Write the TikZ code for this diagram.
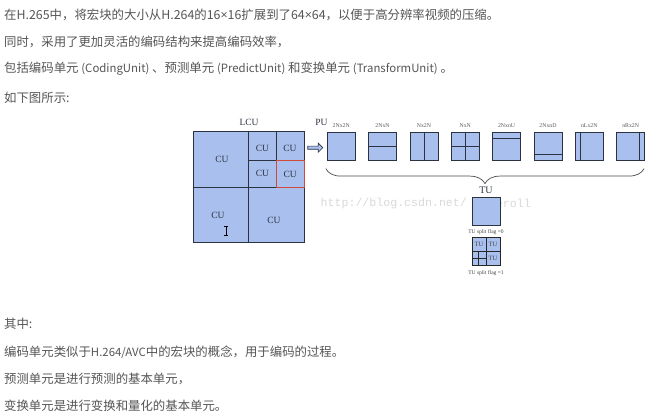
\documentclass[tikz,border=0pt]{standalone}
\usepackage{fontspec}
\setmainfont{Noto Sans CJK SC}
\newfontfamily\os{Open Sans}
\newfontfamily\serif{Liberation Serif}
\newfontfamily\mono{Liberation Mono}
\usetikzlibrary{decorations.pathreplacing,shapes.arrows,calc}
\definecolor{cubl}{HTML}{A9C0EE}
\definecolor{cued}{HTML}{2B3340}
\definecolor{txt}{HTML}{555555}
\definecolor{redb}{HTML}{D04A3A}
\newcommand{\lw}[1]{{\fontsize{11.4}{15}\selectfont #1}}
\begin{document}
\begin{tikzpicture}[x=1pt,y=-1pt,
 para/.style={anchor=west,inner sep=0,text=txt,font=\fontsize{12.4}{15}\selectfont},
 blk/.style={draw=cued,fill=cubl,line width=0.8pt,inner sep=0,minimum size=28pt},
 lab/.style={font=\serif\fontsize{9.5}{10}\selectfont,text=cued,inner sep=0},
 plab/.style={font=\serif\fontsize{5.8}{6}\selectfont,text=black!65,inner sep=0},
 flab/.style={font=\serif\fontsize{5.5}{6}\selectfont,text=black!75,inner sep=0},
 wm/.style={font=\mono\fontsize{11.6}{12}\selectfont,text=black!15,inner sep=0},
 cut/.style={draw=cued,line width=0.8pt},
]
\useasboundingbox[fill=white] (0,0) rectangle (659,417);
% paragraph text
\node[para] (t1) at (4,15) {在H.265中，将宏块的大小从H.264的16{\os ×}16扩展到了64{\os ×}64，以便于高分辨率视频的压缩。};
\node[para] (t2) at (4,42) {同时，采用了更加灵活的编码结构来提高编码效率，};
\node[para] (t3) at (4,69) {包括编码单元 \lw{(CodingUnit)} 、预测单元 \lw{(PredictUnit)} 和变换单元 \lw{(TransformUnit)} 。};
\node[para] (t4) at (4,97.5) {如下图所示:};
\node[para] (b1) at (4,324) {其中:};
\node[para] (b2) at (4,352) {编码单元类似于\lw{H.264/AVC}中的宏块的概念，用于编码的过程。};
\node[para] (b3) at (4,379) {预测单元是进行预测的基本单元，};
\node[para] (b4) at (4,405.5) {变换单元是进行变换和量化的基本单元。};

% LCU
\node[blk,minimum size=111pt] (lcu) at (248.5,187.2) {};
\draw[cut] (248.5,132) -- (248.5,242.4);
\draw[cut] (193,187) -- (304,187);
\draw[cut] (276.2,132) -- (276.2,187);
\draw[cut] (248.5,160) -- (304,160);
\draw[redb,line width=0.9pt] (276.2,160) rectangle (304,187);
\node[lab] (lcul) at (249,122) {LCU};
\node[lab] (cu1) at (222,159.5) {CU};
\node[lab] (cu2) at (262.5,148) {CU};
\node[lab] (cu3) at (290,148) {CU};
\node[lab] (cu4) at (262.5,173.5) {CU};
\node[lab] (cu5) at (290.2,174) {CU};
\node[lab] (cu6) at (218,215) {CU};
\node[lab] (cu7) at (274,220) {CU};
% text cursor
\draw[black,line width=0.6pt] (226,226) -- (226,235.5) (224,226) -- (228,226) (224,235.5) -- (228,235.5);

% arrow and PU
\node[lab] (pul) at (321.5,122) {PU};
\node[single arrow,draw=cued,fill=cubl,line width=0.6pt,minimum width=9pt,minimum height=15pt,single arrow head extend=1.5pt,inner sep=0.5pt] (arr) at (314.5,147.7) {};

\foreach \i/\t in {0/2Nx2N,1/2NxN,2/Nx2N,3/NxN,4/2NxnU,5/2NxnD,6/nLx2N,7/nRx2N}{
  \node[blk] (p\i) at ({341.2+41.35*\i},146.2) {};
  \node[plab] (pl\i) at ({341.2+41.35*\i},125.7) {\t};
}
\draw[cut] (p1.west) -- (p1.east);
\draw[cut] (p2.north) -- (p2.south);
\draw[cut] (p3.west) -- (p3.east) (p3.north) -- (p3.south);
\draw[cut] ($(p4.north west)!0.22!(p4.south west)$) -- ($(p4.north east)!0.22!(p4.south east)$);
\draw[cut] ($(p5.north west)!0.78!(p5.south west)$) -- ($(p5.north east)!0.78!(p5.south east)$);
\draw[cut] ($(p6.north west)!0.2!(p6.north east)$) -- ($(p6.south west)!0.2!(p6.south east)$);
\draw[cut] ($(p7.north west)!0.8!(p7.north east)$) -- ($(p7.south west)!0.8!(p7.south east)$);

% brace
\coordinate (bl) at ($(p0.south west)+(-1,8)$);
\coordinate (br) at ($(p7.south east)+(-1,8)$);
\draw[black!70,line width=0.7pt,decorate,decoration={brace,mirror,amplitude=15pt}] (bl) -- (br);

% watermark
\node[wm,anchor=west] (wm1) at (320.5,203.5) {http://blog.csdn.net/};
\node[wm,anchor=east] (wm2) at (531,203.5) {eroll};

% TU
\node[lab,font=\serif\fontsize{10}{11}\selectfont] (tul) at (486,190.5) {TU};
\node[blk] (tu0) at (486,211.2) {};
\node[flab] (f0) at (486,231.7) {TU split flag =0};
\node[blk,draw=black!85,line width=1pt] (tu1) at (486,251.5) {};
\draw[black!85,line width=1pt] (tu1.north) -- (tu1.south) (tu1.west) -- (tu1.east);
\draw[black!85,line width=1pt] ($(tu1.west)!0.5!(tu1.south west)$) -- ($(tu1.center)!0.5!(tu1.south)$)
  ($(tu1.west)!0.5!(tu1.center)$) -- ($(tu1.south west)!0.5!(tu1.south)$);
\node[flab,font=\serif\fontsize{6.5}{7}\selectfont] (tq1) at (479,244.5) {TU};
\node[flab,font=\serif\fontsize{6.5}{7}\selectfont] (tq2) at (493,244.5) {TU};
\node[flab,font=\serif\fontsize{6.5}{7}\selectfont] (tq3) at (493,258.5) {TU};
\node[flab] (f1) at (486,272.7) {TU split flag =1};
\end{tikzpicture}
\end{document}
